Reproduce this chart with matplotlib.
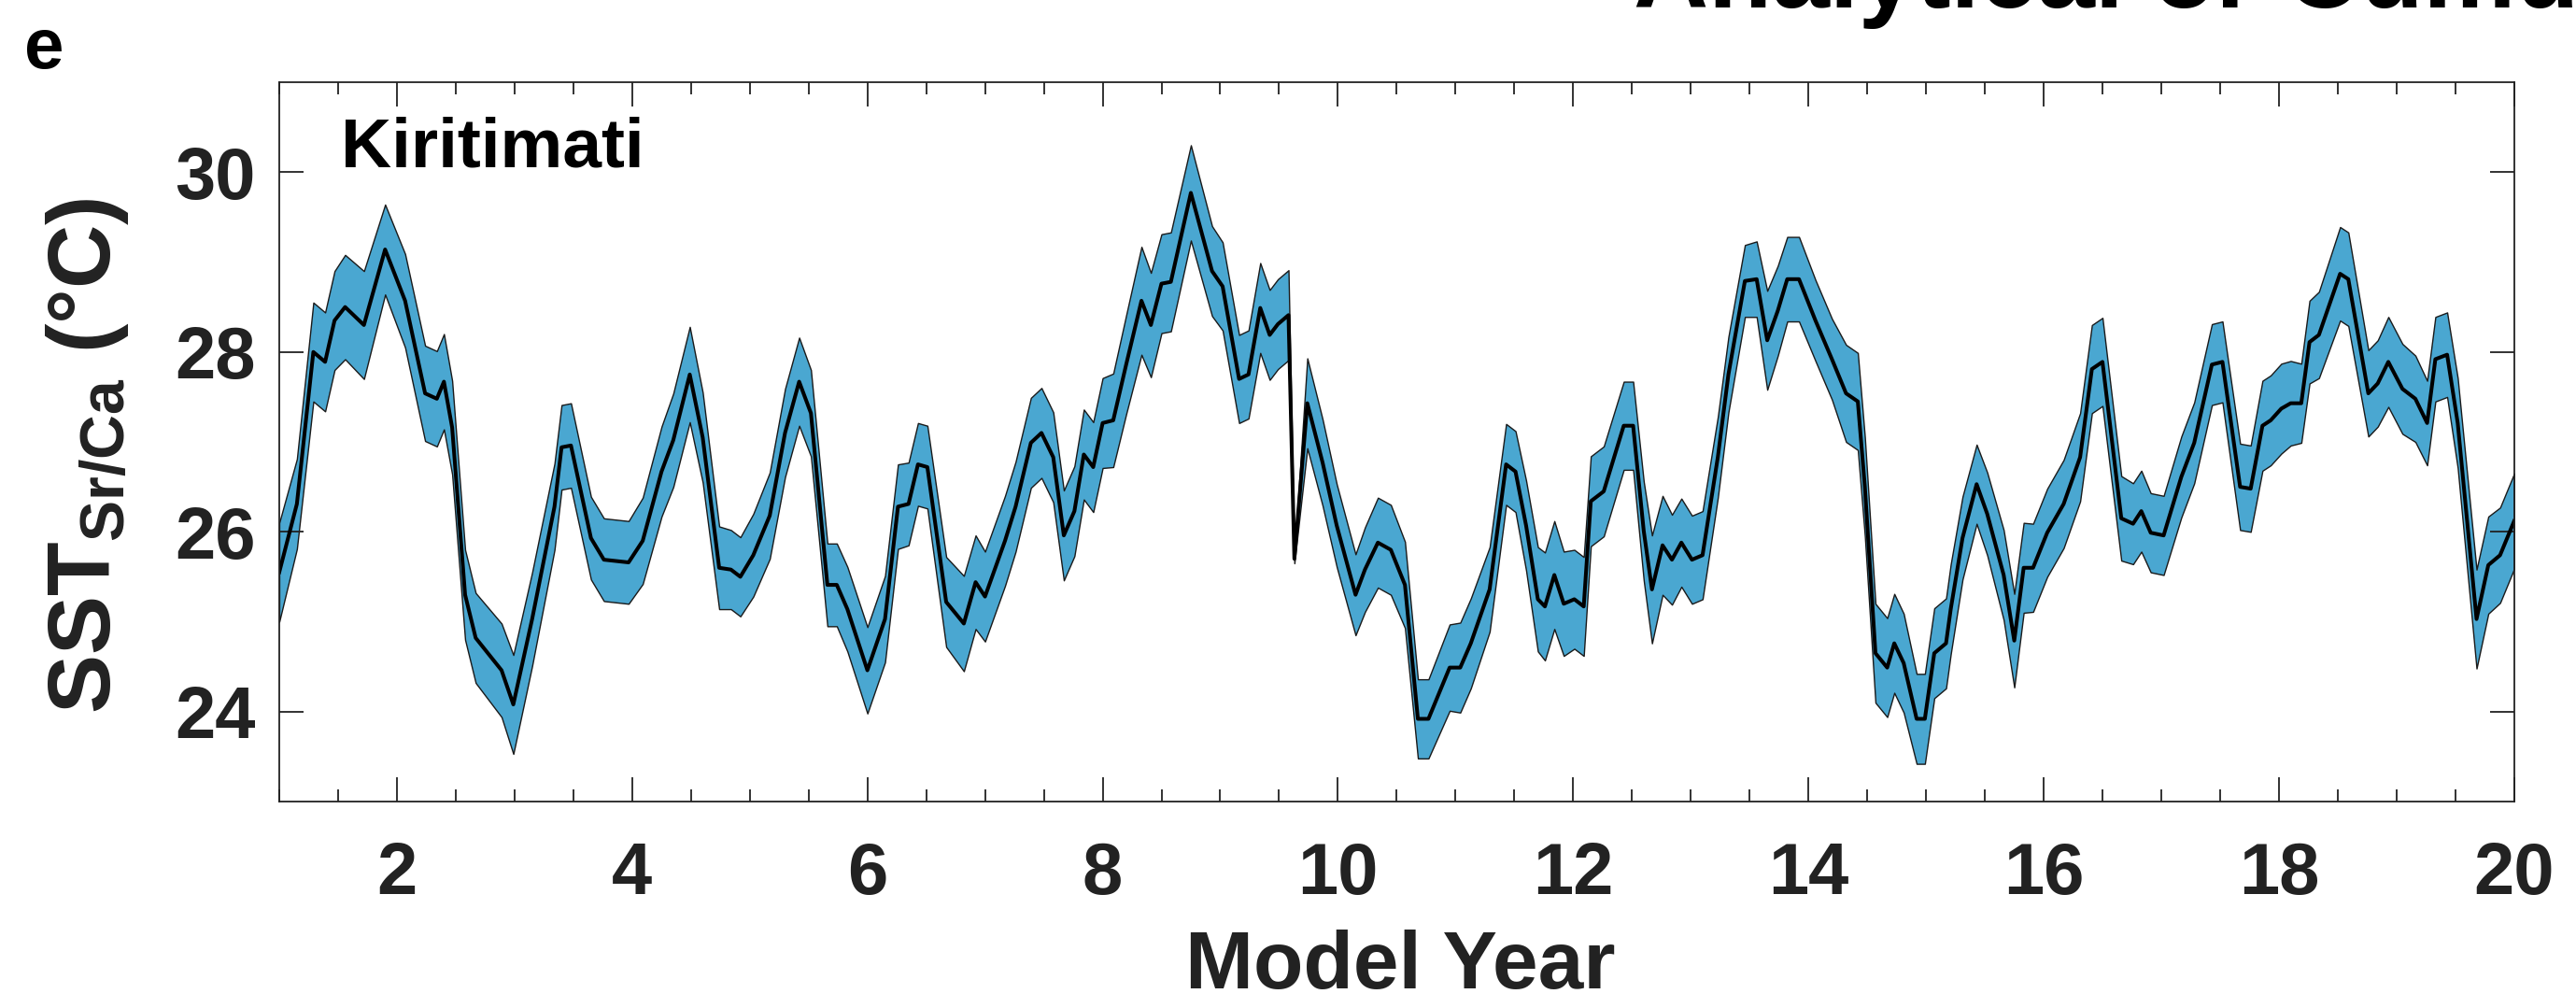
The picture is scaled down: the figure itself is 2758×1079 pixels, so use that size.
import numpy as np
from matplotlib import pyplot as plt
from matplotlib.ticker import MultipleLocator

# Kiritimati Sr/Ca SST, mean and half-width of the band
years = [1.00, 1.15, 1.29, 1.39, 1.47, 1.56, 1.72, 1.90, 2.07, 2.24,
         2.34, 2.40, 2.47, 2.58, 2.67, 2.89, 2.99, 3.15, 3.34, 3.40,
         3.48, 3.65, 3.76, 3.97, 4.09, 4.25, 4.35, 4.49, 4.60, 4.74,
         4.84, 4.92, 5.03, 5.17, 5.30, 5.42, 5.52, 5.66, 5.74, 5.83,
         6.00, 6.15, 6.26, 6.35, 6.43, 6.51, 6.67, 6.82, 6.92, 7.00,
         7.17, 7.26, 7.39, 7.48, 7.58, 7.67, 7.76, 7.84, 7.92, 8.00,
         8.09, 8.20, 8.33, 8.41, 8.50, 8.58, 8.75, 8.93, 9.02, 9.16,
         9.24, 9.34, 9.42, 9.49, 9.58, 9.63, 9.74, 9.87, 9.99, 10.15,
         10.23, 10.34, 10.45, 10.57, 10.68, 10.77, 10.95, 11.04, 11.13, 11.29,
         11.43, 11.51, 11.60, 11.70, 11.76, 11.84, 11.92, 12.01, 12.09, 12.15,
         12.26, 12.43, 12.51, 12.60, 12.67, 12.76, 12.84, 12.92, 13.01, 13.10,
         13.23, 13.32, 13.46, 13.56, 13.65, 13.74, 13.82, 13.92, 14.06, 14.20,
         14.32, 14.42, 14.48, 14.57, 14.67, 14.73, 14.81, 14.92, 14.99, 15.07,
         15.17, 15.21, 15.31, 15.43, 15.52, 15.66, 15.75, 15.83, 15.91, 16.03,
         16.17, 16.31, 16.41, 16.50, 16.66, 16.76, 16.83, 16.91, 17.02, 17.17,
         17.28, 17.43, 17.52, 17.67, 17.76, 17.86, 17.93, 18.02, 18.10, 18.19,
         18.26, 18.34, 18.52, 18.59, 18.76, 18.84, 18.93, 19.05, 19.16, 19.26,
         19.33, 19.43, 19.52, 19.68, 19.78, 19.88, 20.00]

sst_mean = [25.55, 26.31, 28.00, 27.89, 28.35, 28.50, 28.30, 29.14, 28.57, 27.54,
            27.48, 27.67, 27.16, 25.30, 24.82, 24.46, 24.08, 25.03, 26.28, 26.94,
            26.96, 25.93, 25.69, 25.66, 25.90, 26.67, 27.02, 27.75, 27.05, 25.60,
            25.58, 25.50, 25.74, 26.18, 27.10, 27.67, 27.32, 25.41, 25.41, 25.14,
            24.46, 25.03, 26.28, 26.31, 26.75, 26.72, 25.22, 24.98, 25.44, 25.28,
            25.90, 26.28, 26.99, 27.10, 26.83, 25.96, 26.23, 26.86, 26.72, 27.21,
            27.24, 27.86, 28.57, 28.30, 28.76, 28.78, 29.77, 28.90, 28.73, 27.70,
            27.75, 28.49, 28.19, 28.31, 28.41, 25.70, 27.43, 26.77, 26.07, 25.30,
            25.58, 25.88, 25.80, 25.41, 23.92, 23.92, 24.49, 24.49, 24.76, 25.36,
            26.75, 26.67, 26.07, 25.25, 25.17, 25.52, 25.20, 25.25, 25.17, 26.34,
            26.45, 27.18, 27.18, 26.01, 25.36, 25.85, 25.69, 25.88, 25.69, 25.74,
            26.83, 27.75, 28.79, 28.81, 28.13, 28.46, 28.81, 28.81, 28.35, 27.92,
            27.54, 27.45, 26.50, 24.65, 24.49, 24.76, 24.54, 23.92, 23.92, 24.65,
            24.76, 25.14, 25.93, 26.53, 26.20, 25.52, 24.79, 25.60, 25.60, 25.99,
            26.31, 26.83, 27.81, 27.89, 26.15, 26.09, 26.23, 25.99, 25.96, 26.61,
            26.99, 27.86, 27.89, 26.50, 26.48, 27.18, 27.24, 27.37, 27.43, 27.43,
            28.11, 28.19, 28.87, 28.81, 27.54, 27.65, 27.89, 27.59, 27.48, 27.21,
            27.92, 27.97, 27.21, 25.03, 25.63, 25.74, 26.12]

sst_err = [0.55, 0.50, 0.55, 0.55, 0.55, 0.58, 0.60, 0.50, 0.52, 0.53,
           0.53, 0.53, 0.52, 0.50, 0.50, 0.52, 0.55, 0.52, 0.48, 0.47,
           0.47, 0.46, 0.46, 0.46, 0.48, 0.50, 0.52, 0.53, 0.50, 0.46,
           0.44, 0.44, 0.46, 0.48, 0.49, 0.49, 0.48, 0.46, 0.46, 0.47,
           0.48, 0.48, 0.47, 0.46, 0.46, 0.46, 0.50, 0.53, 0.52, 0.50,
           0.50, 0.50, 0.50, 0.50, 0.50, 0.50, 0.50, 0.50, 0.50, 0.50,
           0.52, 0.55, 0.60, 0.58, 0.55, 0.55, 0.53, 0.50, 0.49, 0.49,
           0.49, 0.50, 0.50, 0.50, 0.50, 0.05, 0.50, 0.48, 0.46, 0.45,
           0.47, 0.50, 0.50, 0.48, 0.44, 0.44, 0.48, 0.50, 0.50, 0.47,
           0.45, 0.45, 0.50, 0.58, 0.60, 0.60, 0.58, 0.55, 0.55, 0.50,
           0.50, 0.49, 0.49, 0.55, 0.60, 0.55, 0.50, 0.49, 0.49, 0.49,
           0.45, 0.42, 0.40, 0.42, 0.55, 0.50, 0.47, 0.47, 0.45, 0.45,
           0.54, 0.54, 0.55, 0.55, 0.55, 0.55, 0.55, 0.50, 0.50, 0.50,
           0.50, 0.50, 0.46, 0.44, 0.46, 0.50, 0.52, 0.50, 0.49, 0.49,
           0.49, 0.49, 0.49, 0.49, 0.47, 0.45, 0.45, 0.44, 0.44, 0.45,
           0.45, 0.45, 0.45, 0.48, 0.48, 0.50, 0.50, 0.50, 0.47, 0.44,
           0.46, 0.48, 0.52, 0.52, 0.48, 0.48, 0.50, 0.50, 0.48, 0.47,
           0.47, 0.47, 0.50, 0.55, 0.54, 0.53, 0.53]

x_ticks = [2, 4, 6, 8, 10, 12, 14, 16, 18, 20]
y_ticks = [24, 26, 28, 30]

years = np.array(years)
sst_mean = np.array(sst_mean)
sst_err = np.array(sst_err)

plt.rcParams['font.family'] = ['Liberation Sans', 'DejaVu Sans']
plt.rcParams['font.weight'] = 'bold'
plt.rcParams['mathtext.fontset'] = 'custom'
plt.rcParams['mathtext.rm'] = 'Liberation Sans:bold'
plt.rcParams['mathtext.it'] = 'Liberation Sans:bold'
plt.rcParams['mathtext.bf'] = 'Liberation Sans:bold'

fig = plt.figure(figsize=(27.58, 10.79), dpi=100)
ax = fig.add_axes([0.1084, 0.2048, 0.8676, 0.7136])

ax.fill_between(years, sst_mean - sst_err, sst_mean + sst_err,
                facecolor='#4aa7d1', edgecolor='#1a1a1a', linewidth=1.0)
ax.plot(years, sst_mean, color='k', linewidth=2.9)

ax.set_xlim(1, 20)
ax.set_ylim(23, 31)
ax.set_xticks(x_ticks)
ax.set_yticks(y_ticks)
ax.xaxis.set_minor_locator(MultipleLocator(0.5))

ax.tick_params(axis='both', which='both', direction='in', top=True, right=True,
               width=1.3, colors='#222222', labelcolor='#222222')
ax.tick_params(axis='x', which='major', length=19, labelsize=56, pad=30)
ax.tick_params(axis='x', which='minor', length=9.5)
ax.tick_params(axis='y', which='major', length=19, labelsize=56, pad=18)
for s in ax.spines.values():
    s.set_linewidth(1.3)
    s.set_color('#222222')

ax.text(0.0276, 0.883, 'Kiritimati', transform=ax.transAxes, fontsize=54,
        fontweight='bold', va='baseline', ha='left')

fig.text(0.034, 0.8035, r'SST$_{\mathregular{Sr/Ca}}$ (°C)', rotation=90,
         fontsize=68, fontweight='bold', color='#222222', ha='center', va='top')
fig.text(0.5437, 0.0195, 'Model Year', fontsize=63, fontweight='bold',
         color='#222222', ha='center', va='baseline')
fig.text(0.0095, 0.9323, 'e', fontsize=55, fontweight='bold', va='baseline')
# title of the panel above, cut off at the top edge
fig.text(0.634, 1 - 8 / 1079, 'Analytical or Cumulative', fontsize=80,
         fontweight='bold', va='baseline', ha='left')

fig.savefig('out.png', dpi=100)
